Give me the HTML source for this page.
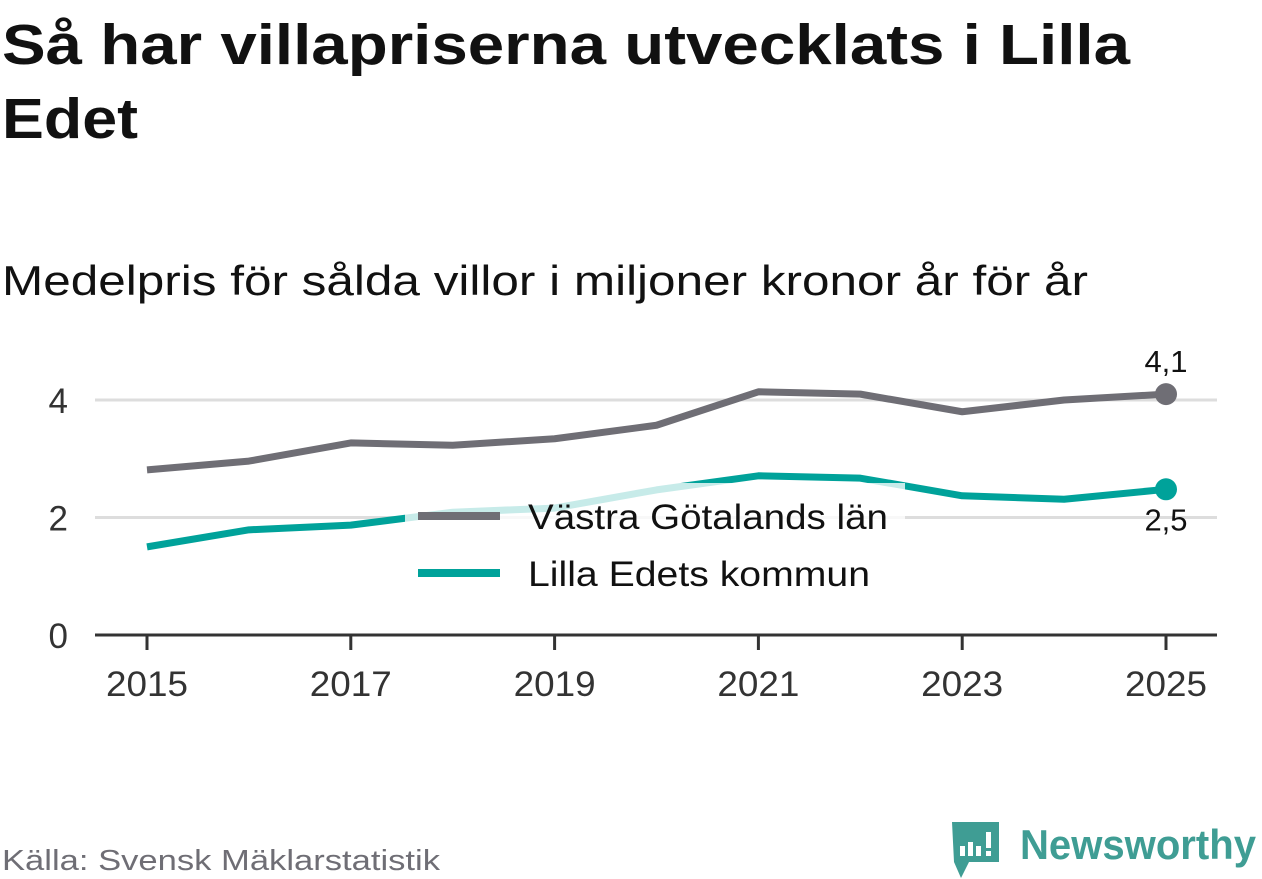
<!DOCTYPE html>
<html><head><meta charset="utf-8"><style>
body{margin:0;width:1262px;height:879px;background:#fff;overflow:hidden;font-family:"Liberation Sans",sans-serif;}
svg{position:absolute;left:0;top:0}
</style></head><body>
<svg id="c" width="1262" height="879">
<text x="2" y="64" font-size="57" font-weight="bold" fill="#111" textLength="1128" lengthAdjust="spacingAndGlyphs">Så har villapriserna utvecklats i Lilla</text>
<text x="2" y="138" font-size="57" font-weight="bold" fill="#111" textLength="136" lengthAdjust="spacingAndGlyphs">Edet</text>
<text x="2" y="295" font-size="42" fill="#111" textLength="1086" lengthAdjust="spacingAndGlyphs">Medelpris för sålda villor i miljoner kronor år för år</text>
<g id="grid"></g><g id="lines"></g>
<rect x="405" y="483" width="500" height="117" fill="#fff" opacity="0.78"/>
<g>
<line x1="418" y1="516" x2="500" y2="516" stroke="#6f6e75" stroke-width="8"/>
<text x="528" y="529" font-size="35" fill="#111" textLength="360" lengthAdjust="spacingAndGlyphs">Västra Götalands län</text>
<line x1="418" y1="573" x2="500" y2="573" stroke="#00a29a" stroke-width="8"/>
<text x="528" y="586" font-size="35" fill="#111" textLength="342" lengthAdjust="spacingAndGlyphs">Lilla Edets kommun</text>
</g>
<text x="2" y="870" font-size="29" fill="#6f6e75" textLength="438" lengthAdjust="spacingAndGlyphs">Källa: Svensk Mäklarstatistik</text>
<g>
<path d="M952 822 h47 v40 h-30 l-8 16 l-7 -16 z" fill="#3f9d94"/>
<rect x="960" y="846" width="5" height="10" fill="#fff"/><rect x="968" y="842" width="5" height="14" fill="#fff"/><rect x="976" y="846" width="5" height="10" fill="#fff"/><rect x="986" y="832" width="5" height="16" fill="#fff"/><rect x="986" y="851" width="5" height="5" fill="#fff"/>
<text x="1020" y="859" font-size="42" font-weight="bold" fill="#3f9d94" textLength="236" lengthAdjust="spacingAndGlyphs">Newsworthy</text>
</g>
</svg>
<script>
const years=[2015,2016,2017,2018,2019,2020,2021,2022,2023,2024,2025];
const vastra=[2.81,2.96,3.27,3.23,3.34,3.57,4.14,4.10,3.80,4.00,4.10];
const lilla=[1.50,1.79,1.87,2.09,2.16,2.47,2.71,2.67,2.37,2.31,2.48];
const yTicks=[0,2,4];
const xTicks=[2015,2017,2019,2021,2023,2025];
const NS="http://www.w3.org/2000/svg";
const X=y=>147+(y-2015)*(1166-147)/10;
const Y=v=>635-v*58.75;
function mk(t,a,p){const e=document.createElementNS(NS,t);for(const k in a)e.setAttribute(k,a[k]);p.appendChild(e);return e;}
const g=document.getElementById('grid'),L=document.getElementById('lines');
yTicks.forEach(v=>{
 if(v>0){const l=mk('line',{x1:95,x2:1217,y1:Y(v),y2:Y(v),stroke:'#ddd','stroke-width':3},g);
 
 }
 const t=mk('text',{x:68,y:Y(v)+13,'font-size':35,fill:'#333','text-anchor':'end'},g);t.textContent=v;
 
 
});
const ax=mk('line',{x1:95,x2:1217,y1:635,y2:635,stroke:'#333','stroke-width':3},g);


xTicks.forEach(y=>{
 const k=mk('line',{x1:X(y),x2:X(y),y1:635,y2:650,stroke:'#333','stroke-width':3},g);
 
 
 const t=mk('text',{x:X(y),y:696,'font-size':35,fill:'#333','text-anchor':'middle',textLength:82,lengthAdjust:'spacingAndGlyphs'},g);t.textContent=y;
 
 
});
function series(vals,color,name,dy){
 const p=mk('polyline',{points:vals.map((v,i)=>X(years[i])+','+Y(v)).join(' '),fill:'none',stroke:color,'stroke-width':7,'stroke-linejoin':'round'},L);
 
 
 const n=vals.length-1;
 const c=mk('circle',{cx:X(years[n]),cy:Y(vals[n]),r:11,fill:color},L);
 
 
 const t=mk('text',{x:X(years[n]),y:Y(vals[n])+dy,'font-size':31,fill:'#111','text-anchor':'middle'},L);
 t.textContent=vals[n].toFixed(1).replace('.',',');
 
 
}
series(vastra,'#6f6e75','vastra-gotaland',-22);
series(lilla,'#00a29a','lilla-edet',41);
</script>
</body></html>
